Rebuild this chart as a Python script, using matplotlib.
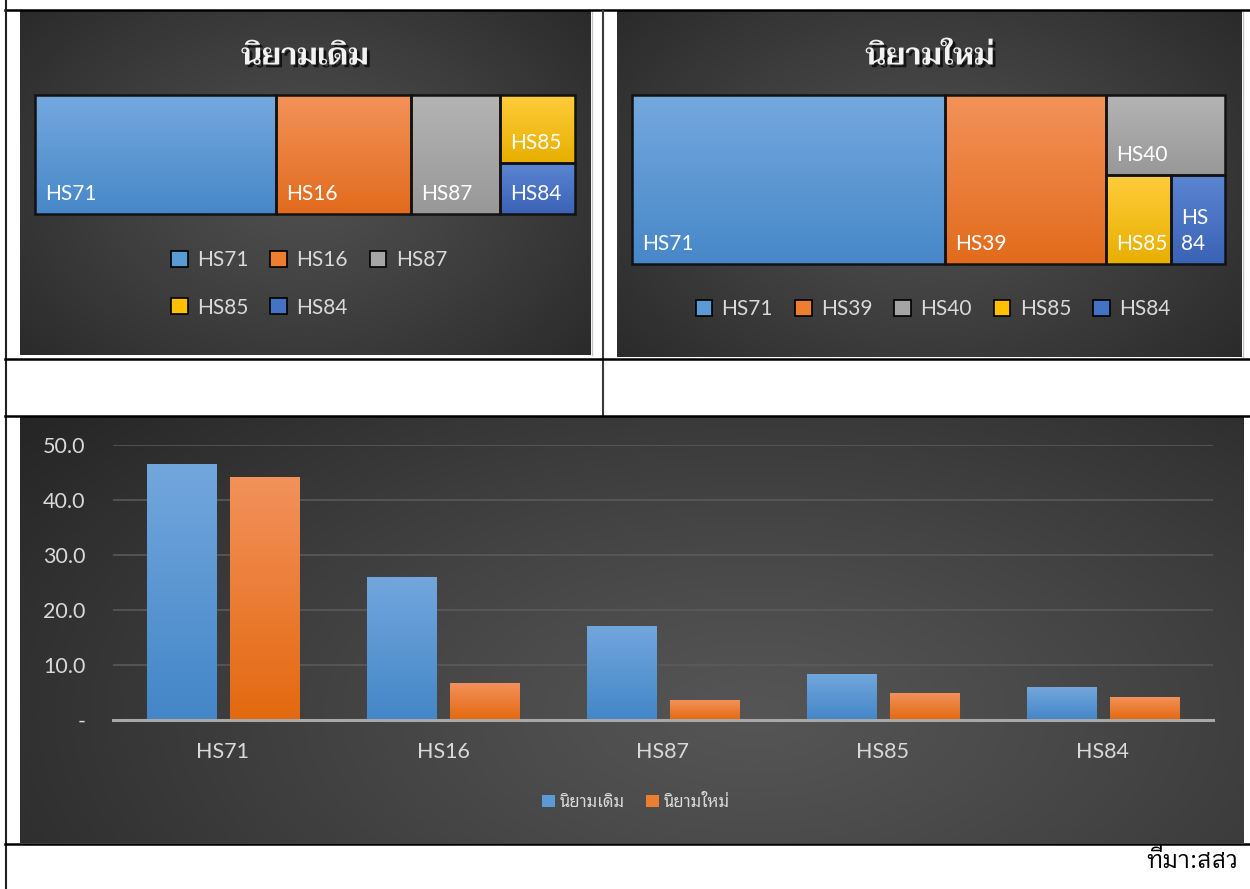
import numpy as np
import matplotlib
matplotlib.use("Agg")
import matplotlib.pyplot as plt
from matplotlib.patches import Rectangle, Patch
from matplotlib.colors import LinearSegmentedColormap, to_rgb
from matplotlib.ticker import FuncFormatter
import matplotlib.patheffects as pe

# ---------------- data ----------------
categories = ['HS71', 'HS16', 'HS87', 'HS85', 'HS84']
old_def = [46.6, 26.0, 17.1, 8.4, 6.0]      # นิยามเดิม
new_def = [44.1, 6.7, 3.6, 4.9, 4.1]        # นิยามใหม่
series_names = ['นิยามเดิม', 'นิยามใหม่']

old_tm_labels = ['HS71', 'HS16', 'HS87', 'HS85', 'HS84']
old_tm_values = [44.6, 25.0, 16.5, 7.9, 5.9]
new_tm_labels = ['HS71', 'HS39', 'HS40', 'HS85', 'HS84']
new_tm_values = [52.8, 27.2, 9.5, 5.8, 4.8]

yticks = [0, 10, 20, 30, 40, 50]
source_text = 'ที่มา:สสว'

# ---------------- style ----------------
W, H = 1250, 889
LAT = ['Lato', 'DejaVu Sans']
THAI = ['Noto Sans Thai Looped', 'DejaVu Sans']
THAI_TITLE = ['Taviraj', 'Noto Serif Thai', 'DejaVu Sans']
SRC = ['IBM Plex Sans Thai Looped', 'Noto Sans Thai Looped', 'DejaVu Sans']
TXT = '#d9d9d9'
# (top, base, bottom)
TM_COLORS = [('#74a9de', '#5b9bd5', '#4787c9'),
             ('#f39259', '#ed7d31', '#e26b1c'),
             ('#b4b4b4', '#a5a5a5', '#989898'),
             ('#ffcd3d', '#ffc000', '#e8af00'),
             ('#5b86d3', '#4472c4', '#3a62b5')]

fig = plt.figure(figsize=(W / 100, H / 100), dpi=100)
fig.patch.set_facecolor('white')


def add_px_axes(x0, y0, x1, y1, **kw):
    return fig.add_axes([x0 / W, 1 - y1 / H, (x1 - x0) / W, (y1 - y0) / H], **kw)


def radial_bg(ax, cx, cy, rx, ry, inner, outer):
    ny, nx = 200, 300
    yy, xx = np.mgrid[0:1:ny * 1j, 0:1:nx * 1j]
    d = np.sqrt(((xx - cx) / rx) ** 2 + ((yy - cy) / ry) ** 2)
    t = np.clip(d, 0, 1) ** 1.2
    ci, co = np.array(to_rgb(inner)), np.array(to_rgb(outer))
    img = ci[None, None, :] * (1 - t[..., None]) + co[None, None, :] * t[..., None]
    ax.imshow(img, extent=(0, 1, 0, 1), origin='lower', aspect='auto', zorder=0,
              interpolation='bilinear')
    ax.set_xlim(0, 1)
    ax.set_ylim(0, 1)
    ax.axis('off')


def grad_fill(ax, patch, ctop, cbot, x0, x1, ytop, ybot):
    cmap = LinearSegmentedColormap.from_list('g', [ctop, cbot])
    arr = np.linspace(0, 1, 128)[:, None]
    im = ax.imshow(arr, cmap=cmap, extent=(x0, x1, ybot, ytop), origin='upper',
                   aspect='auto', interpolation='bilinear', zorder=patch.get_zorder() + 0.5)
    im.set_clip_path(patch)


def worst(row, short):
    s = sum(row)
    return max(max(short ** 2 * r / s ** 2, s ** 2 / (short ** 2 * r)) for r in row)


def squarify(values, x, y, w, h):
    total = float(sum(values))
    areas = [v * w * h / total for v in values]
    rects = []
    while areas:
        short = min(w, h)
        row = [areas[0]]
        i = 1
        while i < len(areas) and worst(row + [areas[i]], short) <= worst(row, short):
            row.append(areas[i])
            i += 1
        s = sum(row)
        if w >= h:
            cw = s / h
            yy = y
            for a in row:
                rh = a / cw
                rects.append((x, yy, cw, rh))
                yy += rh
            x += cw
            w -= cw
        else:
            rh = s / w
            xx = x
            for a in row:
                rw = a / rh
                rects.append((xx, y, rw, rh))
                xx += rw
            y += rh
            h -= rh
        areas = areas[i:]
    return rects


def draw_treemap(ax, labels, values):
    bb = ax.get_position()
    wpx, hpx = bb.width * W, bb.height * H
    rects = squarify(values, 0, 0, wpx, hpx)
    for (x, y, w, h), lab, col in zip(rects, labels, TM_COLORS):
        p = Rectangle((x, y), w, h, facecolor=col[1], edgecolor='none', zorder=1)
        ax.add_patch(p)
        grad_fill(ax, p, col[0], col[2], x, x + w, y, y + h)
        ax.add_patch(Rectangle((x, y), w, h, fill=False, edgecolor='#121212',
                               lw=1.8, zorder=3, clip_on=False))
        text = lab if w > 62 else lab[:2] + '\n' + lab[2:]
        ax.text(x + 10, y + h - 10, text, color='white', fontsize=15, family=LAT,
                ha='left', va='bottom', zorder=4, linespacing=1.35)
    ax.set_xlim(0, wpx)
    ax.set_ylim(hpx, 0)
    ax.axis('off')


def tm_legend(ax, labels, order, ncol, cx, cy, labelspacing):
    handles = [Patch(facecolor=TM_COLORS[i][1], edgecolor='black', lw=1.2, label=labels[i])
               for i in order]
    ax.legend(handles=handles, loc='center', bbox_to_anchor=(cx / W, 1 - cy / H),
              bbox_transform=fig.transFigure, ncol=ncol, frameon=False,
              prop={'family': LAT, 'size': 15}, labelcolor=TXT, handlelength=0.8,
              handleheight=0.8, handletextpad=0.45, columnspacing=1.05,
              labelspacing=labelspacing)


def title(xc, text):
    fig.text(xc / W, 1 - 57 / H, text, ha='center', va='center', fontsize=22,
             fontweight='semibold', family=THAI_TITLE, color='#f2f2f2',
             path_effects=[pe.SimplePatchShadow(offset=(2, -2), shadow_rgbFace='black',
                                                alpha=0.7),
                           pe.Normal()])


# ---------------- top-left treemap ----------------
p1 = add_px_axes(20, 11, 591, 355)
radial_bg(p1, 0.5, 0.5, 0.72, 0.85, '#4f4f4f', '#262626')
title(305, 'นิยามเดิม')
t1 = add_px_axes(35, 95, 575, 214)
draw_treemap(t1, old_tm_labels, old_tm_values)
tm_legend(p1, old_tm_labels, [0, 3, 1, 4, 2], 3, 309, 284, 1.3)

# ---------------- top-right treemap ----------------
p2 = add_px_axes(617, 11, 1242, 357)
radial_bg(p2, 0.5, 0.5, 0.72, 0.85, '#4f4f4f', '#262626')
title(930, 'นิยามใหม่')
t2 = add_px_axes(632, 95, 1225, 264)
draw_treemap(t2, new_tm_labels, new_tm_values)
tm_legend(p2, new_tm_labels, [0, 1, 2, 3, 4], 5, 933, 309, 0.5)

# ---------------- bar chart ----------------
p3 = add_px_axes(20, 417, 1244, 843)
radial_bg(p3, 0.6, 0.3, 0.75, 1.1, '#555555', '#262626')
ax = add_px_axes(113, 445, 1213, 720)
ax.set_facecolor('none')
x = np.arange(len(categories))
bw, off = 0.314, 0.19
bars_old = ax.bar(x - off, old_def, width=bw, color='#5b9bd5', zorder=2, label=series_names[0])
bars_new = ax.bar(x + off, new_def, width=bw, color='#ed7d31', zorder=2, label=series_names[1])
for b in bars_old:
    grad_fill(ax, b, '#72a7dd', '#4486c8', b.get_x(), b.get_x() + b.get_width(),
              b.get_height(), 0)
for b in bars_new:
    grad_fill(ax, b, '#f3915b', '#e3690f', b.get_x(), b.get_x() + b.get_width(),
              b.get_height(), 0)
ax.set_xlim(-0.5, len(categories) - 0.5)
ax.set_ylim(0, 50)
ax.set_yticks(yticks)
ax.yaxis.set_major_formatter(FuncFormatter(lambda v, p: '-' if v == 0 else f'{v:.1f}'))
ax.set_xticks(x)
ax.set_xticklabels(categories)
ax.yaxis.grid(True, color='#5c5c5c', lw=1.1, zorder=1)
ax.set_axisbelow(True)
for s in ['left', 'right', 'top']:
    ax.spines[s].set_visible(False)
ax.spines['bottom'].set_color('#a8a8a8')
ax.spines['bottom'].set_linewidth(2.2)
ax.spines['bottom'].set_zorder(3)
ax.tick_params(axis='y', length=0, pad=20, labelsize=15.5, labelcolor=TXT)
ax.tick_params(axis='x', length=0, pad=16, labelsize=15.5, labelcolor=TXT)
for lab in ax.get_xticklabels() + ax.get_yticklabels():
    lab.set_family(LAT)
leg_handles = [Patch(facecolor='#5b9bd5', label=series_names[0]),
               Patch(facecolor='#ed7d31', label=series_names[1])]
ax.legend(handles=leg_handles, loc='center', bbox_to_anchor=(636 / W, 1 - 803 / H),
          bbox_transform=fig.transFigure, ncol=2, frameon=False,
          prop={'family': THAI, 'size': 12}, labelcolor=TXT, handlelength=0.75,
          handleheight=0.75, handletextpad=0.3, columnspacing=1.3)

# ---------------- table lines & source ----------------
ov = fig.add_axes([0, 0, 1, 1], zorder=10)
ov.set_xlim(0, W)
ov.set_ylim(H, 0)
ov.axis('off')
ov.patch.set_alpha(0)
ov.plot([592, 592], [11, 355], color='#c4c4c4', lw=1)
ov.plot([1243, 1243], [11, 357], color='#c4c4c4', lw=1)
ov.plot([5, 1250], [10, 10], color='black', lw=1.8)
ov.plot([5.5, 5.5], [0, H], color='#202020', lw=1.5)
ov.plot([603, 603], [10, 416], color='#3a3a3a', lw=1.5)
ov.plot([5, 1250], [359, 359], color='black', lw=1.8)
ov.plot([5, 1250], [416, 416], color='black', lw=1.8)
ov.plot([5, 1250], [844, 844], color='black', lw=1.8)
fig.text(1238 / W, 1 - 862 / H, source_text, ha='right', va='center', fontsize=17,
         family=SRC, color='black')

fig.savefig('out.png', dpi=100)
